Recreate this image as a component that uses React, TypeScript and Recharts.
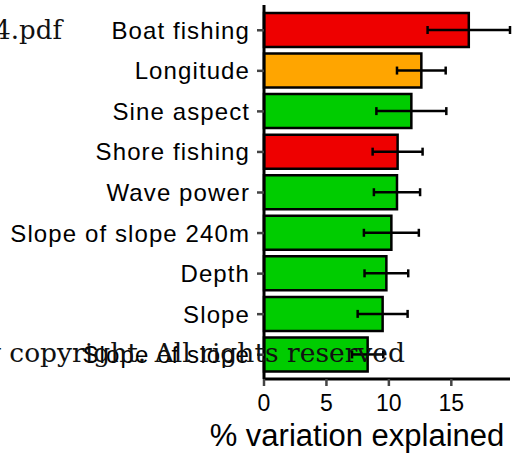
import React from "react";
import {
  BarChart,
  Bar,
  Cell,
  ErrorBar,
  XAxis,
  YAxis,
} from "recharts";

// predictors, ordered by importance
const factors = [
  "Boat fishing",
  "Longitude",
  "Sine aspect",
  "Shore fishing",
  "Wave power",
  "Slope of slope 240m",
  "Depth",
  "Slope",
  "Slope of slope",
];
const explained = [16.4, 12.6, 11.8, 10.7, 10.65, 10.2, 9.8, 9.5, 8.3];
const spread = [3.3, 1.95, 2.8, 2.0, 1.85, 2.2, 1.75, 2.0, 1.25];
const kinds = [
  "fishing",
  "spatial",
  "habitat",
  "fishing",
  "habitat",
  "habitat",
  "habitat",
  "habitat",
  "habitat",
];
const xTicks = [0, 5, 10, 15];

const kindColor: Record<string, string> = {
  fishing: "#ee0000",
  spatial: "#ffa500",
  habitat: "#00cc00",
};

const rows = factors.map((name, i) => ({
  name,
  value: explained[i],
  err: spread[i],
  kind: kinds[i],
}));

const sans = "'Liberation Sans', Arial, sans-serif";
const serif = "'DejaVu Serif', serif";

const AxisTitle = () => (
  <text
    x={357}
    y={446}
    textAnchor="middle"
    fontFamily={sans}
    fontSize={31}
    fill="#000"
  >
    % variation explained
  </text>
);

export default function App() {
  return (
    <div style={{ position: "absolute", left: 0, top: 0, width: 515, height: 455 }}>
      <BarChart
        width={515}
        height={455}
        data={rows}
        layout="vertical"
        margin={{ top: 5, right: 5, bottom: 0, left: 0 }}
        barSize={34}
      >
        <XAxis
          type="number"
          domain={[0, 19.7]}
          ticks={xTicks}
          height={76}
          axisLine={{ stroke: "#000", strokeWidth: 3 }}
          tickLine={{ stroke: "#444", strokeWidth: 2.5 }}
          tickSize={7}
          tickMargin={9}
          tick={{ fill: "#000", fontSize: 23, fontFamily: sans }}
          label={{ content: () => <AxisTitle /> }}
        />
        <YAxis
          type="category"
          dataKey="name"
          width={264}
          padding={{ top: 5, bottom: 4 }}
          axisLine={{ stroke: "#000", strokeWidth: 3 }}
          tickLine={{ stroke: "#444", strokeWidth: 2.5 }}
          tickSize={7}
          tickMargin={7}
          interval={0}
          tick={{ fill: "#000", fontSize: 24, fontFamily: sans, letterSpacing: 1.1 }}
        />
        <Bar
          dataKey="value"
          stroke="#000"
          strokeWidth={2.5}
          isAnimationActive={false}
        >
          {rows.map((r) => (
            <Cell key={r.name} fill={kindColor[r.kind]} />
          ))}
          <ErrorBar
            dataKey="err"
            direction="x"
            width={4}
            stroke="#000"
            strokeWidth={2.5}
            isAnimationActive={false}
          />
        </Bar>
      </BarChart>
      <svg
        width={515}
        height={455}
        style={{ position: "absolute", left: 0, top: 0, pointerEvents: "none" }}
      >
        <text x={62} y={39} textAnchor="end" fontFamily={serif} fontSize={26} fill="#111">
          4.pdf
        </text>
        <text x={405} y={362} textAnchor="end" fontFamily={serif} fontSize={26.5} fill="#111">
          y copyright. All rights reserved
        </text>
      </svg>
    </div>
  );
}
